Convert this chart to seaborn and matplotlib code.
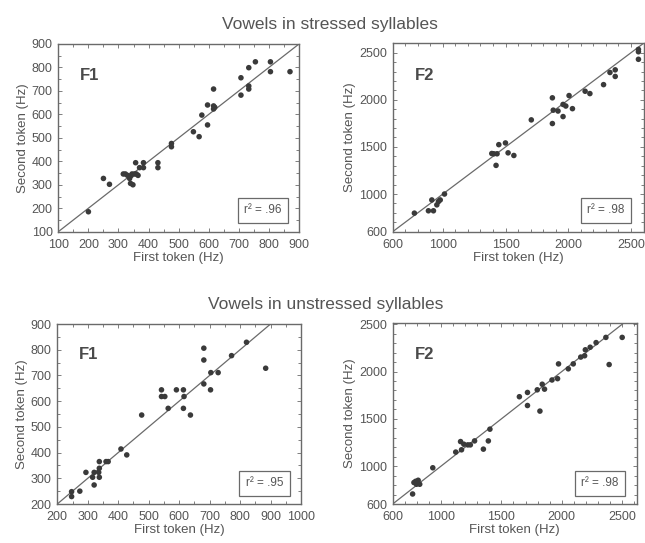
import matplotlib
matplotlib.use("Agg")
import matplotlib.pyplot as plt
import seaborn as sns
import pandas as pd
from matplotlib.ticker import MultipleLocator, FixedLocator

# Stressed syllables, F1 (first token vs second token, Hz)
stressed_f1_first = [200, 250, 270, 316, 323, 337, 342, 340, 345, 353, 359, 357, 370, 383,
                     383, 431, 431, 476, 476, 549, 568, 577, 596, 596, 616, 616, 616, 707,
                     707, 733, 733, 733, 755, 805, 805, 870, 330, 348, 365, 620]
stressed_f1_second = [185, 327, 302, 346, 346, 327, 339, 306, 346, 346, 346, 394, 373, 373,
                      394, 394, 373, 476, 462, 526, 505, 597, 555, 640, 636, 623, 708, 756,
                      682, 721, 708, 799, 824, 824, 782, 782, 340, 300, 340, 630]

# Stressed syllables, F2
stressed_f2_first = [773, 885, 925, 912, 952, 965, 979, 1013, 1406, 1432, 1446, 1499, 1520,
                     1566, 1424, 1705, 1873, 1873, 1918, 1958, 1958, 2006, 2033, 1980, 2134,
                     2172, 2281, 2332, 2374, 2374, 2559, 2559, 2559, 1390, 1880]
stressed_f2_second = [797, 822, 822, 937, 885, 920, 937, 1000, 1427, 1427, 1524, 1542, 1437,
                      1409, 1304, 1787, 2021, 1748, 1881, 1951, 1822, 2045, 1906, 1934, 2091,
                      2066, 2161, 2290, 2318, 2248, 2535, 2510, 2430, 1430, 1890]

# Unstressed syllables, F1
unstressed_f1_first = [247, 247, 274, 294, 316, 321, 321, 336, 338, 338, 338, 360, 367, 409,
                       428, 477, 542, 542, 553, 564, 591, 614, 616, 614, 637, 681, 681, 681,
                       703, 704, 728, 772, 821, 884]
unstressed_f1_second = [248, 229, 250, 323, 304, 323, 274, 323, 339, 304, 365, 365, 365, 414,
                        391, 546, 644, 618, 618, 572, 644, 644, 618, 572, 546, 806, 760, 667,
                        644, 711, 711, 777, 829, 728]

# Unstressed syllables, F2
unstressed_f2_first = [765, 776, 797, 811, 824, 790, 805, 932, 1122, 1170, 1162, 1189, 1222,
                       1243, 1278, 1351, 1392, 1405, 1649, 1716, 1716, 1797, 1819, 1838, 1857,
                       1919, 1965, 1973, 2054, 2095, 2157, 2189, 2195, 2235, 2284, 2365, 2392,
                       2500]
unstressed_f2_second = [706, 827, 809, 851, 809, 840, 830, 983, 1149, 1173, 1260, 1232, 1225,
                        1225, 1267, 1180, 1267, 1391, 1734, 1779, 1641, 1807, 1582, 1866, 1814,
                        1911, 1925, 2081, 2029, 2081, 2153, 2167, 2230, 2257, 2306, 2361, 2074,
                        2361]

panel_labels = ["F1", "F2", "F1", "F2"]
r2_labels = ["r\u00b2 = .96", "r\u00b2 = .98", "r\u00b2 = .95", "r\u00b2 = .98"]
row_titles = ["Vowels in stressed syllables", "Vowels in unstressed syllables"]

sns.set_theme(style="ticks")
plt.rcParams["font.family"] = ["Liberation Sans", "DejaVu Sans"]

TEXT = "#555555"
POINT = "#3a3a3a"
FRAME = "#6a6a6a"

fig = plt.figure(figsize=(6.45, 5.43), dpi=100)

panels = [
    dict(rect=[0.0904, 0.5733, 0.3732, 0.3457], x=stressed_f1_first, y=stressed_f1_second,
         xlim=(100, 900), ylim=(100, 900), xticks=list(range(100, 901, 100)),
         yticks=list(range(100, 901, 100)), minor=50),
    dict(rect=[0.6088, 0.5733, 0.3890, 0.3470], x=stressed_f2_first, y=stressed_f2_second,
         xlim=(600, 2600), ylim=(600, 2600), xticks=[600, 1000, 1500, 2000, 2500],
         yticks=[600, 1000, 1500, 2000, 2500], minor=100),
    dict(rect=[0.0888, 0.0718, 0.3779, 0.3315], x=unstressed_f1_first, y=unstressed_f1_second,
         xlim=(200, 1000), ylim=(200, 900), xticks=list(range(200, 1001, 100)),
         yticks=list(range(200, 901, 100)), minor=50),
    dict(rect=[0.6088, 0.0718, 0.3783, 0.3328], x=unstressed_f2_first, y=unstressed_f2_second,
         xlim=(600, 2620), ylim=(600, 2510), xticks=[600, 1000, 1500, 2000, 2500],
         yticks=[600, 1000, 1500, 2000, 2500], minor=100),
]

for i, p in enumerate(panels):
    ax = fig.add_axes(p["rect"])
    df = pd.DataFrame({"first": p["x"], "second": p["y"]})
    # identity line
    ax.axline((p["xlim"][0], p["xlim"][0]), slope=1, color=FRAME, lw=0.9, zorder=1)
    sns.scatterplot(data=df, x="first", y="second", ax=ax, color=POINT, s=16,
                    edgecolor="none", zorder=3, legend=False)
    ax.set_xlim(*p["xlim"])
    ax.set_ylim(*p["ylim"])
    ax.xaxis.set_major_locator(FixedLocator(p["xticks"]))
    ax.yaxis.set_major_locator(FixedLocator(p["yticks"]))
    ax.xaxis.set_minor_locator(MultipleLocator(p["minor"]))
    ax.yaxis.set_minor_locator(MultipleLocator(p["minor"]))
    ax.tick_params(which="both", direction="in", top=True, right=True, color=FRAME,
                   width=0.6)
    ax.tick_params(which="major", length=3, labelsize=9, labelcolor=TEXT)
    ax.tick_params(axis="x", which="major", pad=5)
    ax.tick_params(axis="y", which="major", pad=4)
    ax.tick_params(which="minor", length=2)
    for sp in ax.spines.values():
        sp.set_color(FRAME)
        sp.set_linewidth(1.0)
    ax.set_xlabel("First token (Hz)", fontsize=9.5, color=TEXT, labelpad=1)
    ax.set_ylabel("Second token (Hz)", fontsize=9.5, color=TEXT, labelpad=2)
    ax.text(0.09, 0.83, panel_labels[i], transform=ax.transAxes, fontsize=12,
            fontweight="bold", color="#4a4a4a", va="center", ha="left")
    ax.text(0.85, 0.115, r2_labels[i], transform=ax.transAxes, fontsize=8.5, color=TEXT,
            va="center", ha="center",
            bbox=dict(boxstyle="square,pad=0.55", fc="white", ec=FRAME, lw=0.9))

fig.text(0.512, 0.946, row_titles[0], ha="center", va="baseline", fontsize=12.5, color=TEXT)
fig.text(0.505, 0.431, row_titles[1], ha="center", va="baseline", fontsize=12.5, color=TEXT)

fig.savefig("out.png", dpi=100, facecolor="white")
